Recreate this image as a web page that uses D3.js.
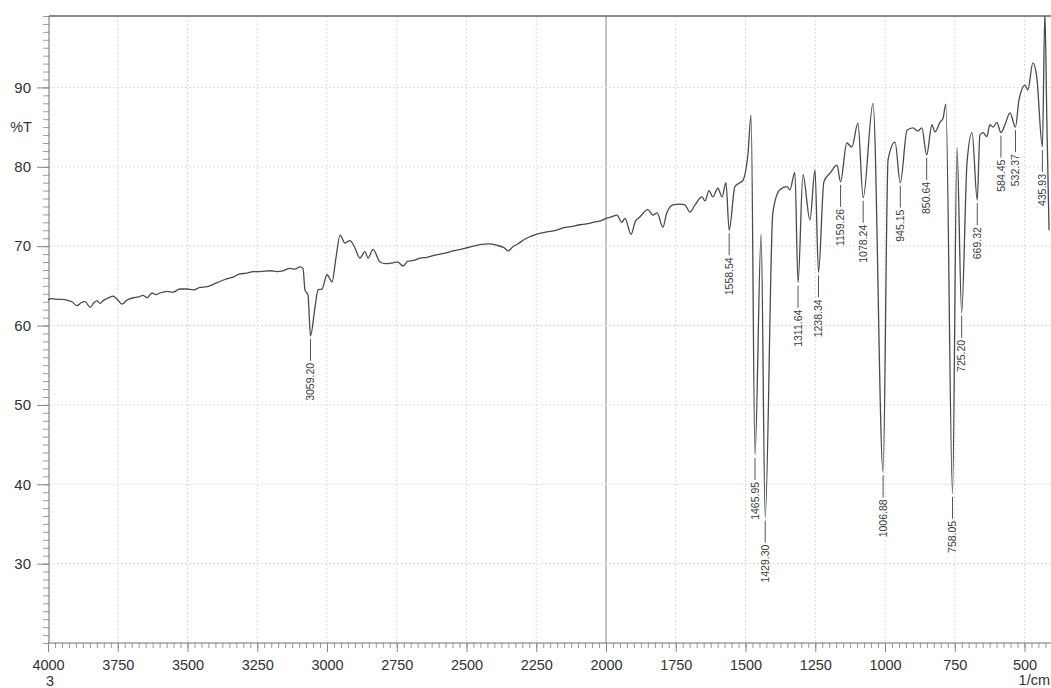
<!DOCTYPE html>
<html>
<head>
<meta charset="utf-8">
<script src="https://cdn.jsdelivr.net/npm/d3@7"></script>
<style>
  html, body { margin: 0; padding: 0; background: #fff; }
  svg { display: block; font-family: "Liberation Sans", Arial, sans-serif; }
</style>
</head>
<body>
<svg id="chart" width="1051" height="688"></svg>
<script>
// IR spectrum: wavenumber (1/cm) and transmittance (%T)
const wavenumbers = [
  4000, 3990, 3970, 3950, 3932, 3914, 3896, 3880, 3867, 3849, 3835, 3824, 3814, 3800, 3789,
  3767, 3752, 3735, 3717, 3695, 3675, 3660, 3645, 3627, 3613, 3599, 3573, 3552, 3527, 3502,
  3480, 3455, 3430, 3394, 3366, 3337, 3312, 3287, 3265, 3240, 3204, 3180, 3158, 3133, 3115,
  3097, 3086, 3079, 3068, 3059.20, 3043, 3032, 3018, 3000, 2982, 2968, 2953, 2936, 2918, 2900,
  2882, 2864, 2853, 2835, 2810, 2790, 2764, 2746, 2728, 2710, 2690, 2667, 2642, 2620, 2595,
  2570, 2548, 2520, 2498, 2475, 2452, 2420, 2390, 2365, 2350, 2335, 2315, 2290, 2272, 2250,
  2212, 2180, 2154, 2120, 2093, 2070, 2047, 2020, 2000, 1980, 1961, 1943, 1932, 1910, 1896,
  1878, 1850, 1832, 1817, 1796, 1782, 1760, 1735, 1717, 1699, 1681, 1656, 1645, 1631, 1617,
  1599, 1584, 1570, 1558.54, 1538, 1520, 1509, 1491, 1480, 1465.95, 1444, 1429.30, 1402, 1377, 1351,
  1341, 1323, 1311.64, 1294, 1269, 1251, 1238.34, 1219, 1197, 1172, 1159.26, 1137, 1119, 1097, 1078.24,
  1043, 1006.88, 989, 964, 945.15, 921, 900, 882, 868, 850.64, 832, 821, 803, 792, 782,
  758.05, 742, 725.20, 706, 688, 669.32, 660, 649, 635, 624, 613, 599, 584.45, 570, 552,
  532.37, 520, 498, 488, 470, 456, 435.93, 427, 420, 412
];
const transmittance = [
  63.2, 63.4, 63.3, 63.3, 63.2, 63.0, 62.5, 62.9, 63.0, 62.3, 62.9, 63.1, 62.8, 63.2, 63.4,
  63.7, 63.3, 62.7, 63.2, 63.5, 63.6, 63.8, 63.5, 64.1, 63.9, 64.1, 64.3, 64.2, 64.6, 64.6,
  64.5, 64.8, 64.9, 65.4, 65.8, 66.1, 66.5, 66.6, 66.8, 66.8, 66.9, 66.8, 66.9, 67.2, 67.1,
  67.4, 67.2, 64.5, 63.8, 58.7, 62.3, 64.5, 64.6, 66.4, 65.5, 68.5, 71.4, 70.4, 70.7, 69.8,
  68.5, 69.3, 68.5, 69.6, 68.0, 67.8, 67.9, 68.0, 67.5, 68.1, 68.2, 68.5, 68.6, 68.8, 69.0,
  69.2, 69.4, 69.6, 69.8, 70.0, 70.2, 70.3, 70.1, 69.8, 69.4, 69.9, 70.3, 70.9, 71.2, 71.5,
  71.8, 72.0, 72.3, 72.5, 72.7, 72.8, 73.0, 73.2, 73.5, 73.7, 73.9, 73.0, 73.5, 71.5, 73.0,
  73.7, 74.6, 73.9, 74.2, 72.4, 74.2, 75.2, 75.3, 75.2, 74.3, 75.2, 76.2, 75.7, 77.0, 76.2,
  77.3, 76.2, 78.0, 72.0, 77.5, 78.0, 78.3, 81.7, 86.5, 43.7, 71.5, 35.8, 74.2, 77.1, 77.5,
  77.1, 79.3, 65.4, 79.0, 73.3, 79.6, 66.7, 78.1, 79.2, 80.2, 78.1, 83.0, 82.5, 85.5, 76.1,
  88.0, 41.5, 80.9, 83.1, 78.0, 84.6, 84.9, 84.5, 84.9, 81.5, 85.3, 84.4, 85.6, 86.1, 87.9,
  38.8, 82.4, 61.6, 80.5, 84.3, 75.8, 84.0, 84.3, 83.8, 85.3, 85.0, 85.6, 84.3, 85.3, 86.8,
  85.0, 88.4, 90.3, 89.7, 93.1, 91.3, 82.5, 99.5, 86.0, 72.0
];

// Picked peaks and their printed labels
const peakWavenumbers = [3059.20, 1558.54, 1465.95, 1429.30, 1311.64, 1238.34, 1159.26, 1078.24,
  1006.88, 945.15, 850.64, 758.05, 725.20, 669.32, 584.45, 532.37, 435.93];
const peakLabels = ["3059.20", "1558.54", "1465.95", "1429.30", "1311.64", "1238.34", "1159.26", "1078.24",
  "1006.88", "945.15", "850.64", "758.05", "725.20", "669.32", "584.45", "532.37", "435.93"];

// Axis ticks
const xTickValues = [4000, 3750, 3500, 3250, 3000, 2750, 2500, 2250, 2000, 1750, 1500, 1250, 1000, 750, 500];
const xTickLabels = ["4000", "3750", "3500", "3250", "3000", "2750", "2500", "2250", "2000", "1750", "1500", "1250", "1000", "750", "500"];
const yTickValues = [30, 40, 50, 60, 70, 80, 90];
const yTickLabels = ["30", "40", "50", "60", "70", "80", "90"];

const svg = d3.select("#chart");
const plotLeft = 48, plotTop = 16, plotBottom = 643, plotRight = 1051;

const x = d3.scaleLinear().domain([4000, 400]).range([plotLeft, plotLeft + 3600 * 0.279]);
const y = d3.scaleLinear().domain([20, 99]).range([plotBottom, plotTop]);

const axisColor = "#6e6e6e";
const textColor = "#333";

// grid
const grid = svg.append("g");
grid.selectAll("line.vx")
  .data(xTickValues.filter(v => v !== 4000))
  .join("line")
  .attr("x1", d => x(d)).attr("x2", d => x(d))
  .attr("y1", plotTop).attr("y2", plotBottom)
  .attr("stroke", d => d === 2000 ? "#8a8a8a" : "#dcdcdc")
  .attr("stroke-dasharray", d => d === 2000 ? null : "2,2");
grid.selectAll("line.hy")
  .data(yTickValues)
  .join("line")
  .attr("x1", plotLeft + 1).attr("x2", plotRight)
  .attr("y1", d => y(d)).attr("y2", d => y(d))
  .attr("stroke", "#dcdcdc")
  .attr("stroke-dasharray", "2,2");

// y axis: minor ticks every 1 %T, major every 10
const yMinor = d3.range(20, 99.5, 1);
const yMinorAxis = svg.append("g")
  .attr("transform", `translate(${plotLeft + 1},0)`)
  .call(d3.axisLeft(y).tickValues(yMinor).tickSize(6).tickFormat(""));
yMinorAxis.select(".domain").remove();
yMinorAxis.selectAll("line").attr("stroke", "#999");

const yAxis = svg.append("g")
  .attr("transform", `translate(${plotLeft + 1},0)`)
  .call(d3.axisLeft(y).tickValues(yTickValues).tickSize(12).tickPadding(6)
    .tickFormat((d, i) => yTickLabels[i]));
yAxis.select(".domain").attr("stroke", axisColor).attr("d", `M0,${plotTop}V${plotBottom}`);
yAxis.selectAll("line").attr("stroke", "#888");
yAxis.selectAll("text").attr("fill", textColor).style("font-size", "15px")
  .style("font-family", "'Liberation Sans', Arial, sans-serif");

// x axis: minor ticks every 25 1/cm, major every 250
const xMinor = d3.range(4000, 399, -25);
const xMinorAxis = svg.append("g")
  .attr("transform", `translate(0,${plotBottom})`)
  .call(d3.axisBottom(x).tickValues(xMinor).tickSize(5).tickFormat(""));
xMinorAxis.select(".domain").remove();
xMinorAxis.selectAll("line").attr("stroke", "#999");

const xAxis = svg.append("g")
  .attr("transform", `translate(0,${plotBottom})`)
  .call(d3.axisBottom(x).tickValues(xTickValues).tickSize(9).tickPadding(8)
    .tickFormat((d, i) => xTickLabels[i]));
xAxis.select(".domain").attr("stroke", axisColor).attr("d", `M${plotLeft},0H${plotRight}`);
xAxis.selectAll("line").attr("stroke", "#888");
xAxis.selectAll("text").attr("fill", textColor).style("font-size", "14.5px")
  .style("font-family", "'Liberation Sans', Arial, sans-serif");

// top frame
svg.append("line")
  .attr("x1", plotLeft + 1).attr("x2", plotRight)
  .attr("y1", plotTop).attr("y2", plotTop)
  .attr("stroke", "#666").attr("stroke-width", 1.6);

// axis captions
svg.append("text").attr("x", 21).attr("y", 132).attr("text-anchor", "middle")
  .attr("fill", textColor).style("font-size", "14.5px").text("%T");
svg.append("text").attr("x", 50).attr("y", 686).attr("text-anchor", "middle")
  .attr("fill", textColor).style("font-size", "14.5px").text("3");
svg.append("text").attr("x", 1050).attr("y", 685).attr("text-anchor", "end")
  .attr("fill", textColor).style("font-size", "14.5px").text("1/cm");

// spectrum
svg.append("clipPath").attr("id", "plot-clip")
  .append("rect").attr("x", plotLeft).attr("y", plotTop)
  .attr("width", plotRight - plotLeft).attr("height", plotBottom - plotTop);

const spectrum = wavenumbers.map((w, i) => ({ w, t: transmittance[i] }));
const line = d3.line().x(d => x(d.w)).y(d => y(d.t)).curve(d3.curveMonotoneX);
svg.append("path")
  .datum(spectrum)
  .attr("clip-path", "url(#plot-clip)")
  .attr("fill", "none")
  .attr("stroke", "#4a4a4a")
  .attr("stroke-width", 1.3)
  .attr("stroke-linejoin", "round")
  .attr("d", line);

// peak markers: leader line below each minimum, value printed vertically
const peaks = peakWavenumbers.map((w, i) => {
  const idx = wavenumbers.indexOf(w);
  return { w, t: transmittance[idx], label: peakLabels[i] };
});
const pk = svg.append("g").selectAll("g").data(peaks).join("g")
  .attr("transform", d => `translate(${x(d.w)},${y(d.t)})`);
pk.append("line")
  .attr("x1", 0).attr("x2", 0).attr("y1", 3).attr("y2", 25)
  .attr("stroke", "#555").attr("stroke-width", 1);
pk.append("text")
  .attr("transform", "translate(0,27) rotate(-90)")
  .attr("text-anchor", "end")
  .attr("dy", "0.35em")
  .attr("fill", "#3a3a3a")
  .style("font-size", "10.5px")
  .text(d => d.label);
</script>
</body>
</html>
